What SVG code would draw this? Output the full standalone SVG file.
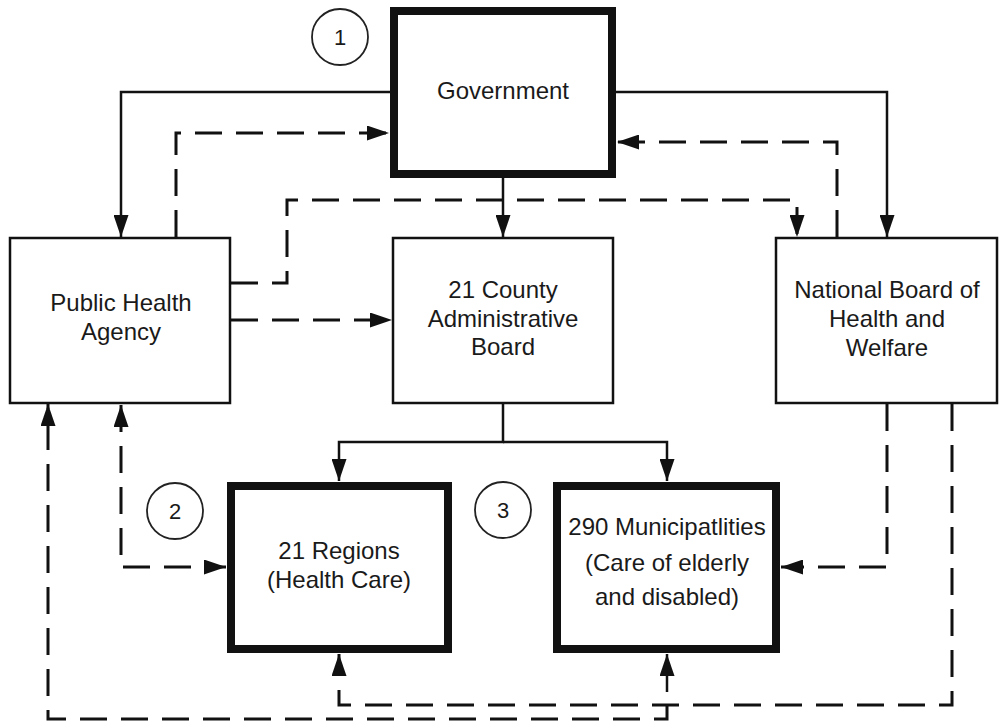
<svg xmlns="http://www.w3.org/2000/svg" width="1002" height="724" viewBox="0 0 1002 724">
<style>
.box{fill:#fff;stroke:#111;stroke-width:2.5}
.thick{fill:#fff;stroke:#111;stroke-width:8}
.lbl{font-family:"Liberation Sans",Arial,sans-serif;font-size:24px;fill:#1a1a1a;text-anchor:middle}
.num{font-family:"Liberation Sans",Arial,sans-serif;font-size:22px;fill:#1a1a1a;text-anchor:middle}
.circ{fill:#fff;stroke:#222;stroke-width:1.8}
.solid{fill:none;stroke:#111;stroke-width:2.5}
.dash{fill:none;stroke:#111;stroke-width:3;stroke-dasharray:27 14}
</style>
<defs>
<marker id="ah" markerUnits="userSpaceOnUse" viewBox="0 0 22 15" refX="22" refY="7.5" markerWidth="22" markerHeight="15" orient="auto-start-reverse">
<path d="M0,0 L22,7.5 L0,15 Z" fill="#111"/>
</marker>
</defs>
<rect width="1002" height="724" fill="#fff"/>
<g id="connectors">
<path class="solid" d="M390 92 H121 V237" marker-end="url(#ah)"/>
<path class="solid" d="M616 92 H887 V237" marker-end="url(#ah)"/>
<path class="solid" d="M503 178 V237" marker-end="url(#ah)"/>
<path class="solid" d="M503 403 V442 H339 V481" marker-end="url(#ah)"/>
<path class="solid" d="M503 442 H667 V481" marker-end="url(#ah)"/>
<path class="dash" d="M176 237 V133 H389" marker-end="url(#ah)"/>
<path class="dash" d="M231 283 H287 V200 H797 V237" marker-end="url(#ah)"/>
<path class="dash" d="M231 320 H392" marker-end="url(#ah)"/>
<path class="dash" d="M837 237 V142 H617" marker-end="url(#ah)"/>
<path class="dash" d="M887 404 V567 H781" marker-end="url(#ah)"/>
<path class="dash" d="M121 405 V567 H226" marker-start="url(#ah)" marker-end="url(#ah)"/>
<path class="dash" d="M952 404 V705 H339 V654" marker-end="url(#ah)"/>
<path class="solid" d="M667 692 V654" marker-end="url(#ah)"/>
<path class="dash" d="M667 705 V719 H48 V404" marker-end="url(#ah)"/>
<path d="M661 635 L673 635 L667 646 Z" fill="#111"/>
</g>
<g id="government">
<rect class="thick" x="394" y="11" width="218" height="163"/>
<text class="lbl" x="503" y="99">Government</text>
</g>
<g id="marker-1">
<circle class="circ" cx="340" cy="37" r="28"/>
<text class="num" x="340" y="45">1</text>
</g>
<g id="public-health-agency">
<rect class="box" x="10" y="238" width="220" height="165"/>
<text class="lbl" x="121" y="311">Public Health</text>
<text class="lbl" x="121" y="340">Agency</text>
</g>
<g id="county-board">
<rect class="box" x="393" y="238" width="220" height="165"/>
<text class="lbl" x="503" y="298">21 County</text>
<text class="lbl" x="503" y="327">Administrative</text>
<text class="lbl" x="503" y="355">Board</text>
</g>
<g id="national-board">
<rect class="box" x="776" y="238" width="221" height="165"/>
<text class="lbl" x="887" y="298">National Board of</text>
<text class="lbl" x="887" y="327">Health and</text>
<text class="lbl" x="887" y="356">Welfare</text>
</g>
<g id="marker-2">
<circle class="circ" cx="175" cy="511" r="28"/>
<text class="num" x="175" y="519">2</text>
</g>
<g id="marker-3">
<circle class="circ" cx="503" cy="510" r="28"/>
<text class="num" x="503" y="518">3</text>
</g>
<g id="regions">
<rect class="thick" x="231" y="486" width="217" height="163"/>
<text class="lbl" x="339" y="559">21 Regions</text>
<text class="lbl" x="339" y="588">(Health Care)</text>
</g>
<g id="municipalities">
<rect class="thick" x="557" y="486" width="219" height="163"/>
<text class="lbl" x="667" y="535">290 Municipatlities</text>
<text class="lbl" x="667" y="571">(Care of elderly</text>
<text class="lbl" x="667" y="605">and disabled)</text>
</g>
</svg>
